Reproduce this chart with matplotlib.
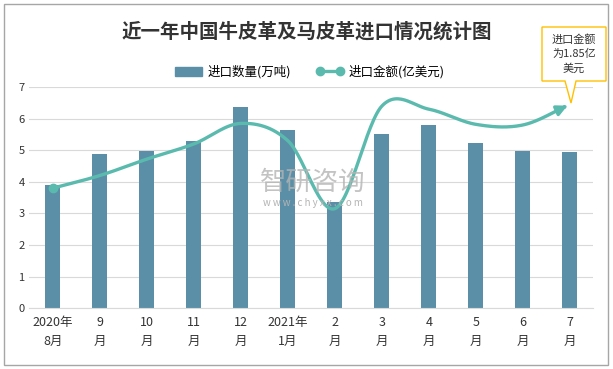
import numpy as np
import matplotlib.pyplot as plt
from matplotlib.lines import Line2D
from matplotlib.patches import Patch, Polygon, Rectangle

plt.rcParams['font.family'] = ['Noto Sans CJK SC', 'DejaVu Sans']

months = ['2020年\n8月', '9\n月', '10\n月', '11\n月', '12\n月', '2021年\n1月',
          '2\n月', '3\n月', '4\n月', '5\n月', '6\n月', '7\n月']
quantity = [3.9, 4.88, 4.98, 5.28, 6.37, 5.64, 3.35, 5.52, 5.8, 5.23, 4.98, 4.95]
amount = [3.8, 4.2, 4.72, 5.2, 5.85, 5.3, 3.15, 6.4, 6.3, 5.82, 5.8, 6.45]

bar_color = '#5B8FA8'
line_color = '#5ABAAE'


def smooth(xs, ys, n=30):
    # Catmull-Rom style smoothing like Excel's smoothed line
    xs = np.asarray(xs, float)
    ys = np.asarray(ys, float)
    px = np.concatenate([[2 * xs[0] - xs[1]], xs, [2 * xs[-1] - xs[-2]]])
    py = np.concatenate([[2 * ys[0] - ys[1]], ys, [2 * ys[-1] - ys[-2]]])
    ox, oy = [], []
    t = np.linspace(0, 1, n)
    for i in range(1, len(px) - 2):
        p0, p1, p2, p3 = [np.array([px[j], py[j]]) for j in range(i - 1, i + 3)]
        c1 = p1 + (p2 - p0) / 6
        c2 = p2 - (p3 - p1) / 6
        pts = ((1 - t) ** 3)[:, None] * p1 + (3 * (1 - t) ** 2 * t)[:, None] * c1 \
            + (3 * (1 - t) * t ** 2)[:, None] * c2 + (t ** 3)[:, None] * p2
        ox.extend(pts[:, 0])
        oy.extend(pts[:, 1])
    return np.array(ox), np.array(oy)


fig = plt.figure(figsize=(6.13, 3.69), dpi=100)
ax = fig.add_axes([0.048, 0.165, 0.92, 0.599])

x = np.arange(len(months))
ax.bar(x, quantity, width=0.32, color=bar_color, zorder=2)

sx, sy = smooth(x, amount)
ax.plot(sx[:-4], sy[:-4], color=line_color, lw=2.4, zorder=3, solid_capstyle='round')
ax.plot(x[0], amount[0], 'o', color=line_color, ms=6, zorder=3)
ax.annotate('', xy=(x[-1], amount[-1]), xytext=(sx[-6], sy[-6]),
            arrowprops=dict(arrowstyle='-|>,head_length=0.6,head_width=0.3',
                            color=line_color, lw=2.4), zorder=3)

ax.set_xlim(-0.5, len(months) - 0.5)
ax.set_ylim(0, 7)
ax.set_yticks(range(8))
ax.grid(axis='y', color='#D9D9D9', lw=0.8, zorder=0)
ax.set_xticks(x)
ax.set_xticklabels(months, fontsize=9, color='#333333', linespacing=1.5)
ax.tick_params(axis='both', length=0, labelsize=8, colors='#333333')
ax.tick_params(axis='x', pad=6, labelsize=9)
for s in ['top', 'right', 'left']:
    ax.spines[s].set_visible(False)
ax.spines['bottom'].set_color('#D9D9D9')

# watermark
fig.text(0.51, 0.505, '智研咨询', fontsize=19, color='#B4B4B4', alpha=0.8,
         ha='center', va='center')
fig.text(0.51, 0.45, 'w w w . c h y x x . c o m', fontsize=7, color='#B4B4B4',
         ha='center', va='center')

fig.text(0.5, 0.915, '近一年中国牛皮革及马皮革进口情况统计图', fontsize=14,
         fontweight='bold', color='#333333', ha='center', va='center')

handles = [Patch(color=bar_color, label='进口数量(万吨)'),
           Line2D([0], [0], color=line_color, lw=2.4, marker='o', ms=6,
                  markevery=[0], label='进口金额(亿美元)')]
fig.legend(handles=handles, loc='center', bbox_to_anchor=(0.505, 0.805), ncol=2,
           frameon=False, fontsize=9, handlelength=2.2, columnspacing=2.0,
           handletextpad=0.4, numpoints=2)

# callout box
W, H = 613.0, 369.0
pts = [(542, 27), (606, 27), (606, 81), (576, 81), (571, 103), (565, 81), (542, 81)]
fig.patches.append(Polygon([(px / W, 1 - py / H) for px, py in pts], closed=True,
                           transform=fig.transFigure, facecolor='white',
                           edgecolor='#FFC000', lw=1, zorder=5))
fig.text(574 / W, 1 - 54 / H, '进口金额\n为1.85亿\n美元', fontsize=8, color='#333333',
         ha='center', va='center', linespacing=1.5, zorder=6)

fig.patches.append(Rectangle((4 / W, 4 / H), 604 / W, 361 / H, transform=fig.transFigure,
                             fill=False, edgecolor='#A6A6A6', lw=1))

fig.savefig('out.png', dpi=100)
